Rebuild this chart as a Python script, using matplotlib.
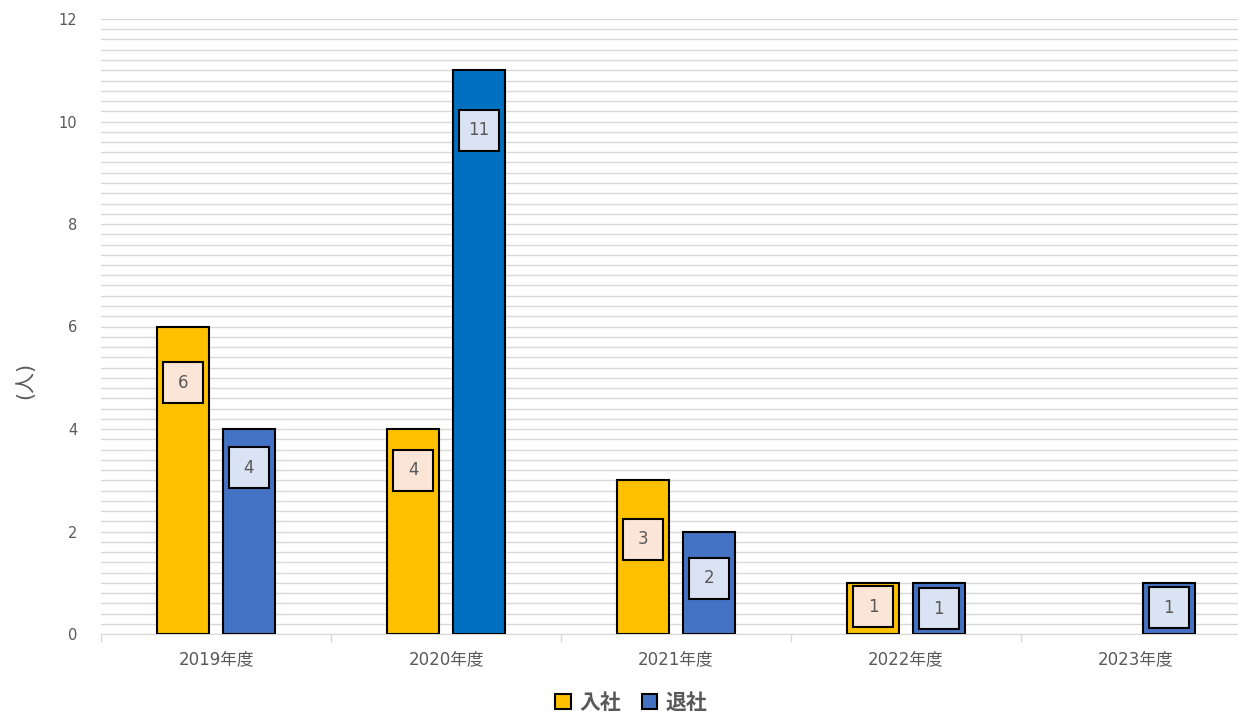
import numpy as np
import matplotlib
matplotlib.use("Agg")
import matplotlib.pyplot as plt
from matplotlib.patches import Rectangle, Patch

plt.rcParams['font.family'] = ['DejaVu Sans', 'Noto Sans CJK JP']

years = ["2019年度", "2020年度", "2021年度", "2022年度", "2023年度"]
nyusha = [6, 4, 3, 1, 0]
taisha = [4, 11, 2, 1, 1]
series_names = ["入社", "退社"]

# where the value boxes sit (y centre in data units)
nyusha_label_y = [4.90, 3.20, 1.85, 0.53, None]
taisha_label_y = [3.24, 9.83, 1.09, 0.49, 0.51]

c_yellow = "#FFC000"
c_blue = "#4472C4"
c_blue_dark = "#0070C0"
box_yellow = "#FBE5D6"
box_blue = "#DAE3F3"
grey_txt = "#595959"
grid_c = "#D9D9D9"

fig = plt.figure(figsize=(12.38, 7.12), dpi=100)
ax = fig.add_axes([101/1238, 1-634/712, 1150/1238, 615/712])

x = np.arange(len(years))
w = 0.226
off = 0.143
taisha_colors = [c_blue_dark if i == 1 else c_blue for i in range(len(years))]
ny_lw = [1.5 if v > 0 else 0 for v in nyusha]
ta_lw = [1.5 if v > 0 else 0 for v in taisha]

ax.bar(x - off, nyusha, w, color=c_yellow, edgecolor="black", linewidth=ny_lw, zorder=3)
ax.bar(x + off, taisha, w, color=taisha_colors, edgecolor="black", linewidth=ta_lw, zorder=3)

bw, bh = 40/230, 41/51.25
def value_box(xc, yc, v, fc):
    ax.add_patch(Rectangle((xc - bw/2, yc - bh/2), bw, bh, facecolor=fc,
                           edgecolor="black", linewidth=1.5, zorder=4))
    ax.text(xc, yc, str(v), ha="center", va="center", fontsize=12,
            color=grey_txt, zorder=5)

for i in range(len(years)):
    if nyusha[i] > 0 and nyusha_label_y[i] is not None:
        value_box(x[i] - off, nyusha_label_y[i], nyusha[i], box_yellow)
    if taisha[i] > 0:
        value_box(x[i] + off, taisha_label_y[i], taisha[i], box_blue)

ax.set_xlim(-0.5, len(years) - 0.5)
ax.set_ylim(0, 12)
ax.set_yticks(np.arange(0, 13, 2))
ax.set_yticks(np.arange(0, 12.01, 0.2), minor=True)
ax.yaxis.grid(True, which="both", color=grid_c, linewidth=1, zorder=0)
ax.set_axisbelow(True)
ax.tick_params(axis="y", which="both", length=0, pad=17, labelsize=10.5, labelcolor=grey_txt)

ax.set_xticks(x)
ax.set_xticklabels(years)
ax.set_xticks(np.arange(-0.5, len(years)), minor=True)
ax.tick_params(axis="x", which="major", length=0, pad=12, labelsize=12, labelcolor=grey_txt)
ax.tick_params(axis="x", which="minor", length=6, color=grid_c, width=1)

for s in ["top", "right", "left"]:
    ax.spines[s].set_visible(False)
ax.spines["bottom"].set_color(grid_c)

ax.set_ylabel("(人)", fontsize=15, color=grey_txt)
ax.yaxis.set_label_coords(-0.057, 0.413)

handles = [Patch(facecolor=c_yellow, edgecolor="black", linewidth=1.5),
           Patch(facecolor=c_blue, edgecolor="black", linewidth=1.5)]
leg = fig.legend(handles, series_names, loc="center", bbox_to_anchor=(0.51, 0.0126),
                 ncol=2, frameon=False, handlelength=0.75, handleheight=0.75,
                 handletextpad=0.4, columnspacing=1.0,
                 prop={"size": 15, "weight": "bold"})
for t in leg.get_texts():
    t.set_color(grey_txt)

fig.savefig("out.png", dpi=100)
